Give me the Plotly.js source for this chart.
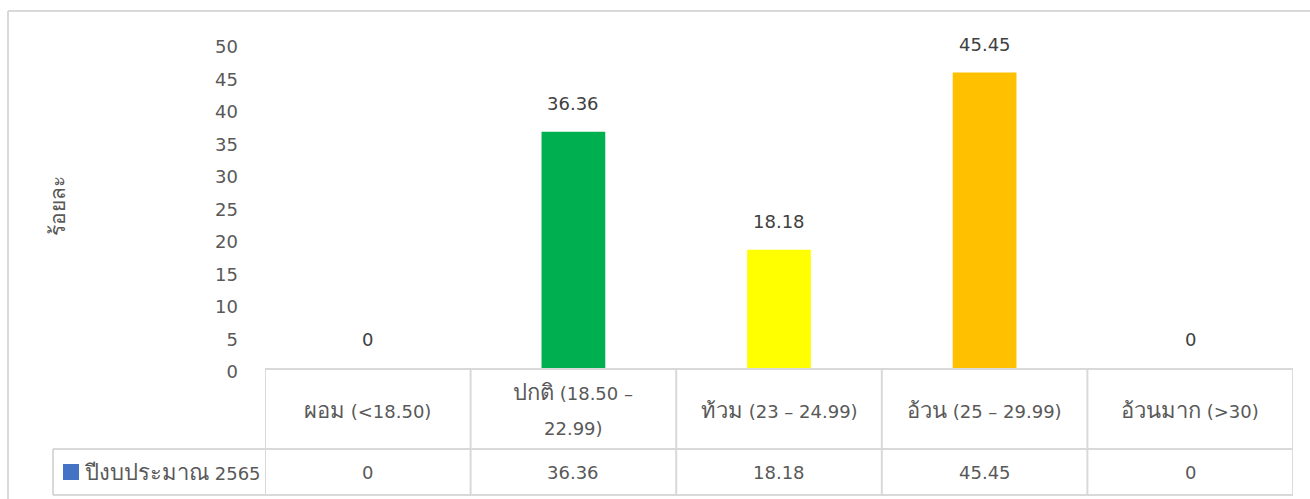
<!DOCTYPE html>
<html>
<head>
<meta charset="utf-8">
<script src="https://cdn.plot.ly/plotly-3.0.1.min.js"></script>
<style>html,body{margin:0;padding:0;background:#fff;}#chart{width:1310px;height:499px;}</style>
</head>
<body>
<div id="chart"></div>
<script>
const categories = ["ผอม (<18.50)", "ปกติ (18.50 –<br>22.99)", "ท้วม (23 – 24.99)", "อ้วน (25 – 29.99)", "อ้วนมาก (>30)"];
const values = [0, 36.36, 18.18, 45.45, 0];
const valueLabels = ["0", "36.36", "18.18", "45.45", "0"];
const barColors = ["#4472C4", "#00B050", "#FFFF00", "#FFC000", "#C00000"];
const seriesName = "ปีงบประมาณ 2565";
const yTicks = [0, 5, 10, 15, 20, 25, 30, 35, 40, 45, 50];
const yTitle = "ร้อยละ";

const FONT = "'DejaVu Sans', 'Noto Sans', sans-serif";
const BASE = 18, THAI = 22;
const thai = s => s.replace(/([\u0E00-\u0E7F]+)/g, '<span style="font-size:' + THAI + 'px">$1</span>');

const W = 1310, H = 499;
const mL = 265, mR = 17, mT = 43, mB = 131;
const pw = W - mL - mR, ph = H - mT - mB;
const px = p => (p - mL) / pw;
const py = p => (H - mB - p) / ph;
const idx = categories.map((c, i) => i);

const grid = "#D9D9D9";
const shapes = [];
shapes.push({type:"line", xref:"paper", yref:"paper", x0:px(8), x1:px(8), y0:py(11), y1:py(505), line:{color:grid, width:2}});
shapes.push({type:"line", xref:"paper", yref:"paper", x0:px(8), x1:px(1320), y0:py(11), y1:py(11), line:{color:grid, width:2}});
[369, 449, 495].forEach(yy => shapes.push({type:"line", xref:"x", yref:"paper", x0:-0.5, x1:categories.length-0.5, y0:py(yy), y1:py(yy), line:{color:grid, width:2}}));
for (let i = 0; i <= categories.length; i++) {
  shapes.push({type:"line", xref:"x", yref:"paper", x0:i-0.5, x1:i-0.5, y0:py(369), y1:py(495), line:{color:grid, width:2}});
}
shapes.push({type:"line", xref:"paper", yref:"paper", x0:px(53), x1:px(265), y0:py(449), y1:py(449), line:{color:grid, width:2}});
shapes.push({type:"line", xref:"paper", yref:"paper", x0:px(53), x1:px(265), y0:py(495), y1:py(495), line:{color:grid, width:2}});
shapes.push({type:"line", xref:"paper", yref:"paper", x0:px(53), x1:px(53), y0:py(449), y1:py(495), line:{color:grid, width:2}});
shapes.push({type:"rect", xref:"paper", yref:"paper", x0:px(63), x1:px(79), y0:py(480), y1:py(464), line:{width:0}, fillcolor:"#4472C4"});

const annotations = [];
idx.forEach(i => annotations.push({x:i, y:values[i], xref:"x", yref:"y", text:valueLabels[i], showarrow:false, yanchor:"bottom", yshift:16, font:{family:FONT, size:BASE, color:"#404040"}}));
idx.forEach(i => {
  const lines = categories[i].split("<br>");
  const gap = 36, center = 410;
  lines.forEach((ln, k) => {
    const yy = center + (k - (lines.length - 1) / 2) * gap;
    annotations.push({x:i, y:py(yy), xref:"x", yref:"paper", text:thai(ln), showarrow:false, yanchor:"middle", align:"center", font:{family:FONT, size:BASE, color:"#595959"}});
  });
});
idx.forEach(i => annotations.push({x:i, y:py(472), xref:"x", yref:"paper", text:valueLabels[i], showarrow:false, yanchor:"middle", font:{family:FONT, size:BASE, color:"#595959"}}));
annotations.push({x:px(82), y:py(472), xref:"paper", yref:"paper", text:thai(seriesName), showarrow:false, xanchor:"left", yanchor:"middle", font:{family:FONT, size:BASE, color:"#595959"}});
annotations.push({x:px(58), y:py(206), xref:"paper", yref:"paper", text:yTitle, textangle:-90, showarrow:false, xanchor:"center", yanchor:"middle", font:{family:FONT, size:21, color:"#595959"}});

const trace = {type:"bar", x:idx, y:values, name:seriesName, marker:{color:barColors}, hoverinfo:"skip"};

const layout = {
  width:W, height:H,
  margin:{l:mL, r:mR, t:mT, b:mB, pad:0},
  paper_bgcolor:"#fff", plot_bgcolor:"#fff",
  showlegend:false, bargap:0.69,
  font:{family:FONT, size:BASE, color:"#595959"},
  xaxis:{range:[-0.5, categories.length-0.5], showticklabels:false, showgrid:false, zeroline:false, showline:false, ticks:"", fixedrange:true},
  yaxis:{range:[0, 50], tickvals:yTicks, ticktext:yTicks.map(String), showgrid:false, zeroline:false, showline:false, ticks:"", ticklabelstandoff:26, ticklabelshift:4, tickfont:{family:FONT, size:BASE, color:"#595959"}, title:{text:""}, fixedrange:true},
  shapes:shapes, annotations:annotations
};

Plotly.newPlot("chart", [trace], layout, {displayModeBar:false, staticPlot:true});
</script>
</body>
</html>
